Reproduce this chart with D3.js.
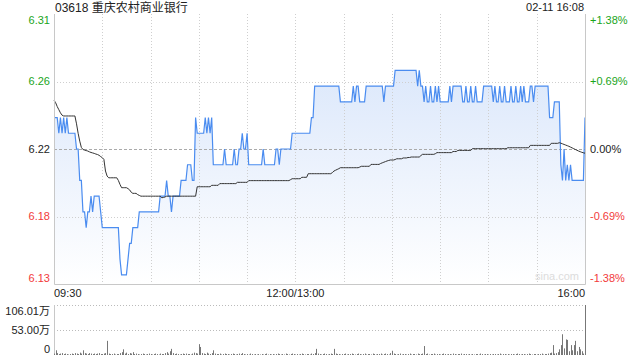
<!DOCTYPE html>
<html>
<head>
<meta charset="utf-8">
<script src="https://cdn.jsdelivr.net/npm/d3@7"></script>
<style>
  body { margin: 0; background: #fff; }
  text { font-family: "Liberation Sans", Arial, sans-serif; }
</style>
</head>
<body>
<script>
const title = "03618 重庆农村商业银行";
const stamp = "02-11 16:08";
const preClose = 6.22;

const priceLabels = ["6.31", "6.26", "6.22", "6.18", "6.13"];
const pctValues = [1.38, 0.69, 0, -0.69, -1.38];
const pctLabels = ["+1.38%", "+0.69%", "0.00%", "-0.69%", "-1.38%"];

const timeLabels = ["09:30", "12:00/13:00", "16:00"];
const timeMinutes = [0, 150, 330];
const gridMinutes = [30, 60, 90, 120, 150, 180, 210, 240, 270, 300];

const volTicks = [106.01, 53.00, 0];
const volLabels = ["106.01万", "53.00万", "0"];

// one value per minute, 09:30 .. 16:00 (lunch merged)
const price = [
  6.24,6.24,6.24,6.23,6.24,6.23,6.24,6.23,6.24,6.23,
  6.23,6.23,6.23,6.23,6.22,6.22,6.20,6.20,6.18,6.18,
  6.17,6.18,6.18,6.19,6.18,6.19,6.19,6.19,6.19,6.18,
  6.17,6.17,6.17,6.17,6.17,6.17,6.17,6.17,6.17,6.17,
  6.17,6.15,6.14,6.14,6.14,6.14,6.15,6.16,6.16,6.17,
  6.17,6.17,6.17,6.18,6.18,6.18,6.18,6.18,6.18,6.18,
  6.18,6.18,6.18,6.18,6.18,6.18,6.19,6.19,6.19,6.19,
  6.20,6.19,6.19,6.18,6.19,6.19,6.19,6.19,6.19,6.20,
  6.20,6.20,6.20,6.21,6.21,6.21,6.20,6.20,6.24,6.23,
  6.23,6.23,6.23,6.23,6.24,6.23,6.24,6.23,6.24,6.21,
  6.21,6.21,6.21,6.21,6.21,6.21,6.22,6.21,6.21,6.21,
  6.21,6.21,6.22,6.21,6.21,6.22,6.22,6.23,6.22,6.22,
  6.23,6.21,6.21,6.21,6.21,6.21,6.21,6.21,6.21,6.21,
  6.22,6.21,6.21,6.21,6.21,6.21,6.21,6.21,6.22,6.22,
  6.21,6.22,6.22,6.22,6.22,6.22,6.22,6.22,6.23,6.23,
  6.23,6.23,6.23,6.23,6.23,6.23,6.23,6.23,6.23,6.23,
  6.24,6.24,6.26,6.26,6.26,6.26,6.26,6.26,6.26,6.26,
  6.26,6.26,6.26,6.26,6.26,6.26,6.26,6.26,6.25,6.25,
  6.25,6.25,6.25,6.25,6.25,6.25,6.26,6.25,6.26,6.26,
  6.25,6.25,6.25,6.25,6.26,6.26,6.26,6.26,6.26,6.26,
  6.26,6.26,6.26,6.26,6.26,6.25,6.26,6.26,6.26,6.26,
  6.26,6.26,6.27,6.27,6.27,6.27,6.27,6.27,6.27,6.27,
  6.27,6.27,6.27,6.27,6.27,6.27,6.26,6.27,6.26,6.26,
  6.25,6.26,6.25,6.25,6.26,6.25,6.25,6.26,6.25,6.26,
  6.25,6.25,6.25,6.25,6.25,6.25,6.26,6.25,6.26,6.26,
  6.26,6.26,6.26,6.26,6.25,6.25,6.26,6.25,6.25,6.26,
  6.25,6.25,6.26,6.25,6.25,6.25,6.25,6.26,6.26,6.26,
  6.26,6.26,6.26,6.25,6.26,6.25,6.25,6.26,6.25,6.25,
  6.26,6.25,6.25,6.25,6.26,6.25,6.25,6.26,6.25,6.25,
  6.26,6.25,6.26,6.25,6.25,6.25,6.26,6.26,6.25,6.26,
  6.26,6.26,6.26,6.26,6.26,6.26,6.26,6.26,6.24,6.24,
  6.24,6.25,6.25,6.25,6.25,6.21,6.20,6.22,6.20,6.21,
  6.20,6.21,6.20,6.20,6.20,6.20,6.20,6.20,6.20,6.20,
  6.24
];

const avgPrice = [
  6.2510,6.2495,6.2470,6.2450,6.2430,6.2415,6.2410,6.2410,6.2410,6.2410,
  6.2410,6.2410,6.2410,6.2410,6.2360,6.2300,6.2250,6.2210,6.2197,6.2193,
  6.2190,6.2187,6.2182,6.2178,6.2175,6.2172,6.2168,6.2165,6.2160,6.2152,
  6.2145,6.2134,6.2060,6.2028,6.2017,6.2017,6.2017,6.2017,6.2017,6.2017,
  6.2000,6.1975,6.1954,6.1954,6.1954,6.1954,6.1948,6.1940,6.1925,6.1918,
  6.1918,6.1918,6.1910,6.1905,6.1900,6.1900,6.1900,6.1900,6.1900,6.1900,
  6.1900,6.1900,6.1900,6.1900,6.1900,6.1900,6.1900,6.1890,6.1892,6.1895,
  6.1900,6.1900,6.1900,6.1900,6.1900,6.1900,6.1900,6.1900,6.1900,6.1900,
  6.1900,6.1900,6.1900,6.1900,6.1900,6.1900,6.1900,6.1900,6.1900,6.1960,
  6.1960,6.1960,6.1960,6.1960,6.1960,6.1960,6.1960,6.1960,6.1969,6.1969,
  6.1969,6.1969,6.1969,6.1980,6.1980,6.1980,6.1980,6.1980,6.1980,6.1980,
  6.1980,6.1980,6.1980,6.1980,6.1988,6.1988,6.1988,6.1988,6.1988,6.1988,
  6.1988,6.1999,6.1999,6.1999,6.1999,6.1999,6.1999,6.1999,6.1999,6.1999,
  6.1999,6.1999,6.1999,6.1999,6.1999,6.1999,6.1999,6.1999,6.1999,6.1999,
  6.1999,6.1999,6.1999,6.1999,6.1999,6.1999,6.1999,6.2005,6.2011,6.2011,
  6.2011,6.2011,6.2011,6.2011,6.2020,6.2020,6.2020,6.2020,6.2043,6.2043,
  6.2043,6.2043,6.2043,6.2043,6.2043,6.2043,6.2043,6.2043,6.2043,6.2043,
  6.2043,6.2043,6.2043,6.2050,6.2060,6.2065,6.2070,6.2075,6.2081,6.2081,
  6.2081,6.2081,6.2081,6.2081,6.2081,6.2081,6.2081,6.2081,6.2081,6.2081,
  6.2085,6.2090,6.2090,6.2090,6.2090,6.2090,6.2090,6.2102,6.2102,6.2102,
  6.2102,6.2102,6.2102,6.2108,6.2112,6.2116,6.2120,6.2124,6.2127,6.2130,
  6.2130,6.2130,6.2133,6.2138,6.2138,6.2138,6.2138,6.2143,6.2143,6.2143,
  6.2146,6.2146,6.2149,6.2149,6.2149,6.2149,6.2149,6.2149,6.2158,6.2166,
  6.2166,6.2166,6.2166,6.2166,6.2166,6.2166,6.2166,6.2170,6.2177,6.2177,
  6.2177,6.2177,6.2177,6.2177,6.2177,6.2177,6.2177,6.2177,6.2184,6.2184,
  6.2184,6.2191,6.2191,6.2191,6.2191,6.2191,6.2191,6.2191,6.2191,6.2191,
  6.2202,6.2202,6.2202,6.2202,6.2202,6.2202,6.2202,6.2202,6.2202,6.2202,
  6.2202,6.2202,6.2202,6.2202,6.2202,6.2202,6.2202,6.2202,6.2202,6.2202,
  6.2202,6.2202,6.2208,6.2208,6.2208,6.2208,6.2208,6.2208,6.2208,6.2208,
  6.2208,6.2208,6.2208,6.2208,6.2208,6.2208,6.2223,6.2223,6.2223,6.2223,
  6.2223,6.2223,6.2223,6.2223,6.2223,6.2223,6.2223,6.2223,6.2223,6.2236,
  6.2236,6.2236,6.2236,6.2236,6.2240,6.2237,6.2233,6.2229,6.2225,6.2221,
  6.2217,6.2212,6.2207,6.2202,6.2197,6.2192,6.2187,6.2183,6.2179,6.2176,
  6.2173
];

// volume, 万 shares per minute
const volume = [
  3,10,4,2,3,4,2,3,2,1,
  2,3,2,4,3,2,5,3,10,4,
  3,2,4,3,2,3,2,3,4,2,
  2,3,4,30,3,2,2,3,1,2,
  2,4,6,12,3,5,2,4,3,6,
  2,3,2,1,2,3,2,1,2,3,
  2,1,2,3,2,1,3,2,2,4,
  6,3,8,13,4,2,3,2,1,2,
  3,2,3,2,2,1,3,5,4,3,
  23,17,4,3,2,5,3,2,4,10,
  3,2,2,3,1,2,3,2,2,1,
  2,3,2,1,2,3,2,4,2,1,
  2,1,3,2,1,2,1,2,1,2,
  1,2,3,1,2,1,2,1,2,3,
  2,1,2,1,3,2,1,2,3,2,
  1,2,1,2,3,2,1,2,2,1,
  3,2,4,13,3,2,1,2,3,2,
  1,2,3,2,13,3,2,2,1,2,
  2,3,1,2,2,3,2,1,2,3,
  2,1,2,3,1,2,2,1,3,2,
  1,2,2,3,1,2,3,2,1,4,
  9,3,2,1,2,3,1,2,2,1,
  2,3,1,2,2,1,3,2,2,3,
  19,2,3,1,2,2,3,1,2,2,
  1,2,3,2,1,2,2,1,3,2,
  1,2,2,3,1,2,2,1,2,1,
  2,1,2,2,1,3,2,1,2,2,
  1,2,1,2,2,1,2,3,1,2,
  2,1,2,1,2,2,1,2,3,2,
  1,2,2,1,2,3,2,1,2,2,
  1,2,2,3,1,2,2,3,4,5,
  21,3,4,6,12,21,44,14,33,32,
  8,21,10,21,30,8,17,12,8,3,
  106.01
];

const W = 640, H = 360;
const plotL = 54, plotR = 585, plotT = 14, plotB = 284;
const volT = 305, volB = 355;
const green = "#1aa51a", red = "#f23b3b", grid = "#cfcfcf";

const svg = d3.select("body").append("svg")
  .attr("width", W).attr("height", H);

const x = d3.scaleLinear().domain([0, 330]).range([plotL, plotR]);
const y = d3.scaleLinear()
  .domain([preClose * (1 - 0.0138), preClose * (1 + 0.0138)])
  .range([plotB, plotT]);
const yVol = d3.scaleLinear().domain([0, 106.01]).range([volB, volT]);

const grad = svg.append("defs").append("linearGradient")
  .attr("id", "fillGrad").attr("gradientUnits", "userSpaceOnUse")
  .attr("x1", 0).attr("x2", 0).attr("y1", plotT).attr("y2", plotB);
grad.append("stop").attr("offset", "0%").attr("stop-color", "#d3e2fa");
grad.append("stop").attr("offset", "100%").attr("stop-color", "#ffffff");

// title
svg.append("text").attr("x", 55).attr("y", 12)
  .attr("font-size", 12).attr("fill", "#222")
  .style("font-family", "'Liberation Sans', 'Noto Sans CJK SC', sans-serif")
  .text(title);
svg.append("text").attr("x", 584).attr("y", 11)
  .attr("font-size", 11).attr("fill", "#222").attr("text-anchor", "end")
  .text(stamp);

// price area first, grid drawn over it
const pts = price.map((p, i) => [i, p]);
svg.append("path").datum(pts)
  .attr("fill", "url(#fillGrad)")
  .attr("d", d3.area().x(d => x(d[0])).y0(plotB).y1(d => y(d[1])));

// vertical grid
svg.append("g").selectAll("line").data(gridMinutes).enter().append("line")
  .attr("x1", d => Math.round(x(d)) + 0.5).attr("x2", d => Math.round(x(d)) + 0.5)
  .attr("y1", plotT).attr("y2", plotB)
  .attr("stroke", grid).attr("stroke-dasharray", "1,2");

// horizontal grid
svg.append("g").selectAll("line").data(pctValues.filter(p => Math.abs(p) === 0.69)).enter().append("line")
  .attr("x1", plotL).attr("x2", plotR)
  .attr("y1", d => Math.round(y(preClose * (1 + d / 100))) + 0.5)
  .attr("y2", d => Math.round(y(preClose * (1 + d / 100))) + 0.5)
  .attr("stroke", grid).attr("stroke-dasharray", "1,2");
svg.append("line")
  .attr("x1", plotL).attr("x2", plotR)
  .attr("y1", Math.round(y(preClose)) + 0.5).attr("y2", Math.round(y(preClose)) + 0.5)
  .attr("stroke", "#aaa").attr("stroke-dasharray", "3,2");

// lines
svg.append("path").datum(pts)
  .attr("fill", "none").attr("stroke", "#4a8cf0").attr("stroke-width", 1.2)
  .attr("d", d3.line().x(d => x(d[0])).y(d => y(d[1])));

svg.append("path").datum(avgPrice.map((p, i) => [i, p]))
  .attr("fill", "none").attr("stroke", "#333").attr("stroke-width", 1)
  .attr("d", d3.line().x(d => x(d[0])).y(d => y(d[1])));

// frame
svg.append("path")
  .attr("d", `M${plotL + 0.5},${plotT}V${plotB + 0.5}H${plotR + 0.5}V${plotT}`)
  .attr("fill", "none").attr("stroke", "#c8c8c8");

// watermark
svg.append("text").attr("x", 579).attr("y", 280).attr("text-anchor", "end")
  .attr("font-size", 11).attr("fill", "#dcdcdc").text("sina.com");

// price labels, left and right
const lab = svg.append("g").attr("font-size", 11);
const labelY = (d, i) => y(preClose * (1 + d / 100)) + (i === 0 ? 6 : i === 4 ? -6 : 0);
lab.selectAll("text.p").data(pctValues).enter().append("text")
  .attr("class", "p")
  .attr("x", 50).attr("text-anchor", "end")
  .attr("y", labelY)
  .attr("dy", "0.35em")
  .attr("fill", d => d > 0 ? green : d < 0 ? red : "#222")
  .text((d, i) => priceLabels[i]);
lab.selectAll("text.r").data(pctValues).enter().append("text")
  .attr("class", "r")
  .attr("x", 590)
  .attr("y", labelY)
  .attr("dy", "0.35em")
  .attr("fill", d => d > 0 ? green : d < 0 ? red : "#222")
  .text((d, i) => pctLabels[i]);

// time labels
lab.selectAll("text.t").data(timeMinutes).enter().append("text")
  .attr("class", "t")
  .attr("x", d => x(d))
  .attr("y", 297)
  .attr("fill", "#222")
  .attr("text-anchor", (d, i) => i === 0 ? "start" : i === 2 ? "end" : "middle")
  .text((d, i) => timeLabels[i]);

// volume panel
svg.append("g").selectAll("line").data(volTicks.filter(v => v > 0)).enter().append("line")
  .attr("x1", plotL).attr("x2", plotR)
  .attr("y1", d => Math.round(yVol(d)) + 0.5).attr("y2", d => Math.round(yVol(d)) + 0.5)
  .attr("stroke", "#bbb").attr("stroke-dasharray", "1,2");
svg.append("line").attr("x1", plotL + 0.5).attr("x2", plotL + 0.5)
  .attr("y1", volT).attr("y2", volB).attr("stroke", "#c8c8c8");

svg.append("g").selectAll("line").data(volume).enter().append("line")
  .attr("x1", (d, i) => Math.round(x(i)) + 0.5).attr("x2", (d, i) => Math.round(x(i)) + 0.5)
  .attr("y1", volB).attr("y2", d => yVol(d))
  .attr("stroke", "#777").attr("stroke-width", 1);

lab.selectAll("text.v").data(volTicks).enter().append("text")
  .attr("class", "v")
  .attr("x", 50).attr("text-anchor", "end")
  .attr("y", (d, i) => yVol(d) + (i === 0 ? 6 : i === 2 ? -6 : 0))
  .attr("dy", "0.35em")
  .attr("fill", "#222")
  .style("font-family", "'Liberation Sans', 'Noto Sans CJK SC', sans-serif")
  .text((d, i) => volLabels[i]);
</script>
</body>
</html>
